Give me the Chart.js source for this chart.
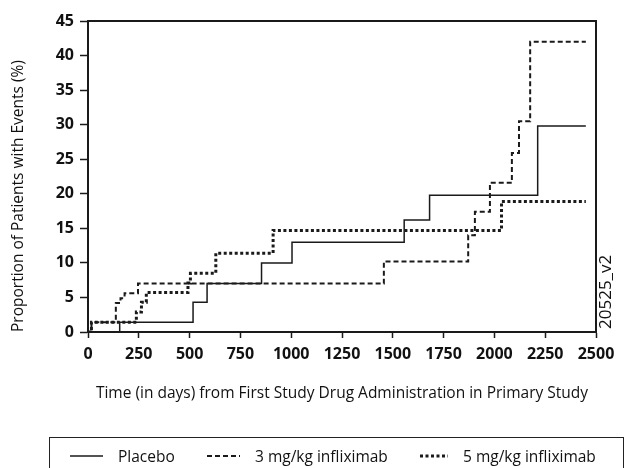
<!DOCTYPE html>
<html>
<head>
<meta charset="utf-8">
<script src="https://cdn.jsdelivr.net/npm/chart.js@4.4.1/dist/chart.umd.min.js"></script>
<style>
  body { margin: 0; background: #fff; font-family: "Open Sans", sans-serif; }
  #wrap { position: relative; width: 627px; height: 468px; overflow: hidden; }
  #legendBox {
    position: absolute; left: 49px; top: 437px; width: 575px; height: 40px;
    border: 1.5px solid #222; box-sizing: border-box;
  }
  .item { position: absolute; top: 0; height: 36px; display: flex; align-items: center; font-size: 15.5px; color: #111; }
  .item svg { margin-right: 15px; }
</style>
</head>
<body>
<div id="wrap">
  <canvas id="chart" width="627" height="468"></canvas>
  <div id="legendBox"></div>
</div>
<script>
// Kaplan-Meier style cumulative event curves

const seriesNames = ['Placebo', '3 mg/kg infliximab', '5 mg/kg infliximab'];

const placeboDays = [0, 156, 517, 586, 854, 1004, 1556, 1681, 2213, 2450];
const placeboPct  = [0, 1.4, 4.3, 7.0, 10.0, 13.0, 16.2, 19.8, 29.8, 29.8];

const mg3Days = [0, 17, 137, 160, 180, 246, 1456, 1871, 1904, 1978, 2086, 2121, 2176, 2450];
const mg3Pct  = [0, 1.4, 4.2, 4.9, 5.6, 7.0, 10.2, 14.0, 17.4, 21.6, 25.9, 30.5, 42.0, 42.0];

const mg5Days = [0, 17, 238, 263, 287, 492, 504, 629, 911, 2035, 2450];
const mg5Pct  = [0, 1.4, 2.9, 4.3, 5.7, 7.1, 8.5, 11.4, 14.7, 18.9, 18.9];

const xTicks = [0, 250, 500, 750, 1000, 1250, 1500, 1750, 2000, 2250, 2500];
const yTicks = [0, 5, 10, 15, 20, 25, 30, 35, 40, 45];

const ink = '#1a1a1a';
const textInk = '#111';
const dashes = [[], [5, 3], [3, 2.5]];
const widths = [1.5, 2, 3];

function toPoints(days, pct) {
    return days.map((d, i) => ({ x: d, y: pct[i] }));
}

const frame = {
    id: 'frame',
    afterDraw(chart) {
        const { ctx, chartArea: a } = chart;
        ctx.save();
        ctx.strokeStyle = ink;
        ctx.lineWidth = 2;
        ctx.strokeRect(a.left, a.top, a.right - a.left, a.bottom - a.top);
        // figure id written up the right edge
        ctx.translate(a.right + 10, a.bottom - 3);
        ctx.rotate(-Math.PI / 2);
        ctx.fillStyle = textInk;
        ctx.font = '17px "Open Sans"';
        ctx.textAlign = 'left';
        ctx.textBaseline = 'middle';
        ctx.fillText('20525_v2', 0, 0);
        ctx.restore();
    }
};

const tickFont = { family: 'Open Sans', size: 16, weight: 'bold' };
const titleFont = { family: 'Open Sans', size: 15.5 };

const chart = new Chart(document.getElementById('chart'), {
    type: 'line',
    data: {
        datasets: [
            { label: seriesNames[0], data: toPoints(placeboDays, placeboPct) },
            { label: seriesNames[1], data: toPoints(mg3Days, mg3Pct) },
            { label: seriesNames[2], data: toPoints(mg5Days, mg5Pct) }
        ].map((ds, i) => Object.assign(ds, {
            stepped: true,
            borderColor: ink,
            borderWidth: widths[i],
            borderDash: dashes[i],
            pointRadius: 0,
            fill: false
        }))
    },
    options: {
        responsive: false,
        animation: false,
        layout: { padding: { top: 21, right: 31, left: 0, bottom: 0 } },
        plugins: { legend: { display: false }, tooltip: { enabled: false } },
        scales: {
            x: {
                type: 'linear',
                min: 0, max: 2500,
                afterBuildTicks: s => { s.ticks = xTicks.map(v => ({ value: v })); },
                afterFit: s => { s.height = 136; },
                grid: { drawOnChartArea: false, tickLength: 6, tickColor: ink, tickWidth: 1.5 },
                border: { color: ink, width: 2 },
                ticks: { color: textInk, font: tickFont, padding: 7, maxRotation: 0, callback: v => String(v) },
                title: {
                    display: true,
                    text: 'Time (in days) from First Study Drug Administration in Primary Study',
                    color: textInk,
                    font: titleFont,
                    padding: { top: 0, bottom: 65.5 }
                }
            },
            y: {
                min: 0, max: 45,
                afterBuildTicks: s => { s.ticks = yTicks.map(v => ({ value: v })); },
                afterFit: s => { s.width = 88; },
                grid: { drawOnChartArea: false, tickLength: 8, tickColor: ink, tickWidth: 1.5 },
                border: { color: ink, width: 2 },
                ticks: { color: textInk, font: tickFont, padding: 6, callback: v => String(v) },
                title: {
                    display: true,
                    text: 'Proportion of Patients with Events (%)',
                    align: 'start',
                    color: textInk,
                    font: titleFont,
                    padding: { top: 9.5, bottom: 0 }
                }
            }
        }
    },
    plugins: [frame]
});

// legend box below the plot, built from the datasets
const legendLeft = [20, 157, 370];
const box = document.getElementById('legendBox');
chart.data.datasets.forEach((ds, i) => {
    const item = document.createElement('div');
    item.className = 'item';
    item.style.left = legendLeft[i] + 'px';
    const w = i === 2 ? 28 : 33;
    item.innerHTML =
        `<svg width="${w}" height="6"><line x1="0" y1="3" x2="${w}" y2="3" stroke="${ink}" ` +
        `stroke-width="${ds.borderWidth}" stroke-dasharray="${ds.borderDash.join(' ') || 'none'}"/></svg>` +
        `<span>${ds.label}</span>`;
    box.appendChild(item);
});
</script>
</body>
</html>
